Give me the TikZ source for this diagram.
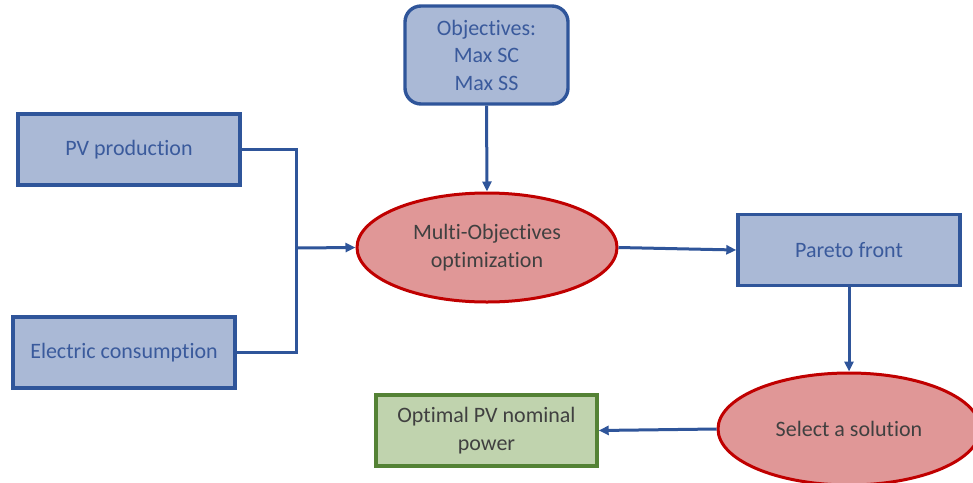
\documentclass[tikz,border=0pt]{standalone}
\usepackage{fontspec}
\setmainfont{Carlito}[Ligatures=NoCommon]
\usetikzlibrary{shapes.geometric,arrows.meta}
\definecolor{bfill}{HTML}{AAB9D6}
\definecolor{bline}{HTML}{2F559A}
\definecolor{btext}{HTML}{3A5A9C}
\definecolor{rfill}{HTML}{E09797}
\definecolor{rline}{HTML}{C00000}
\definecolor{gfill}{HTML}{C0D3AE}
\definecolor{gline}{HTML}{548235}
\definecolor{dtext}{HTML}{404040}
\tikzset{
  bluebox/.style={draw=bline, fill=bfill, line width=3.4pt, text=btext, minimum width=222pt, minimum height=71pt, inner sep=0pt, align=center, font=\fontsize{22}{27.5}\selectfont},
  redell/.style={ellipse, draw=rline, fill=rfill, line width=3pt, text=dtext, inner sep=0pt, align=center, font=\fontsize{22}{27.5}\selectfont},
  greenbox/.style={draw=gline, fill=gfill, line width=3.4pt, text=dtext, minimum width=221pt, minimum height=71pt, inner sep=0pt, align=center, font=\fontsize{22}{27.5}\selectfont},
  conn/.style={draw=bline, line width=3pt},
  arr/.style={conn, -{Triangle[length=10pt,width=9pt]}}
}
\begin{document}
\begin{tikzpicture}[x=1pt,y=-1pt]
\useasboundingbox (0,0) rectangle (973,482);
\clip (0,0) rectangle (973,482);
\node[bluebox, rounded corners=16pt, minimum width=163pt, minimum height=98pt] (obj) at (486.5,55) {Objectives:\\Max SC\\Max SS};
\node[bluebox] (pv) at (129,149.5) {PV production};
\node[bluebox] (ec) at (124,352.5) {Electric consumption};
\node[redell, minimum width=260pt, minimum height=109pt] (moo) at (487,247.5) {Multi-Objectives\\optimization};
\node[bluebox] (pf) at (849,250) {Pareto front};
\node[redell, minimum width=262pt, minimum height=112pt] (sel) at (849,429) {Select a solution};
\node[greenbox] (opt) at (486.5,430.5) {Optimal PV nominal\\power};
\coordinate (j) at (296,248);
\draw[conn] (pv.east) -- (296,149.5) -- (296,352.5) -- (ec.east);
\draw[arr] (j) -- (moo.west);
\draw[arr] (obj.south) -- (moo.north);
\draw[arr] (moo.east) -- (pf.west);
\draw[arr] (pf.south) -- (sel.north);
\draw[arr] (sel.west) -- (opt.east);
\end{tikzpicture}
\end{document}
